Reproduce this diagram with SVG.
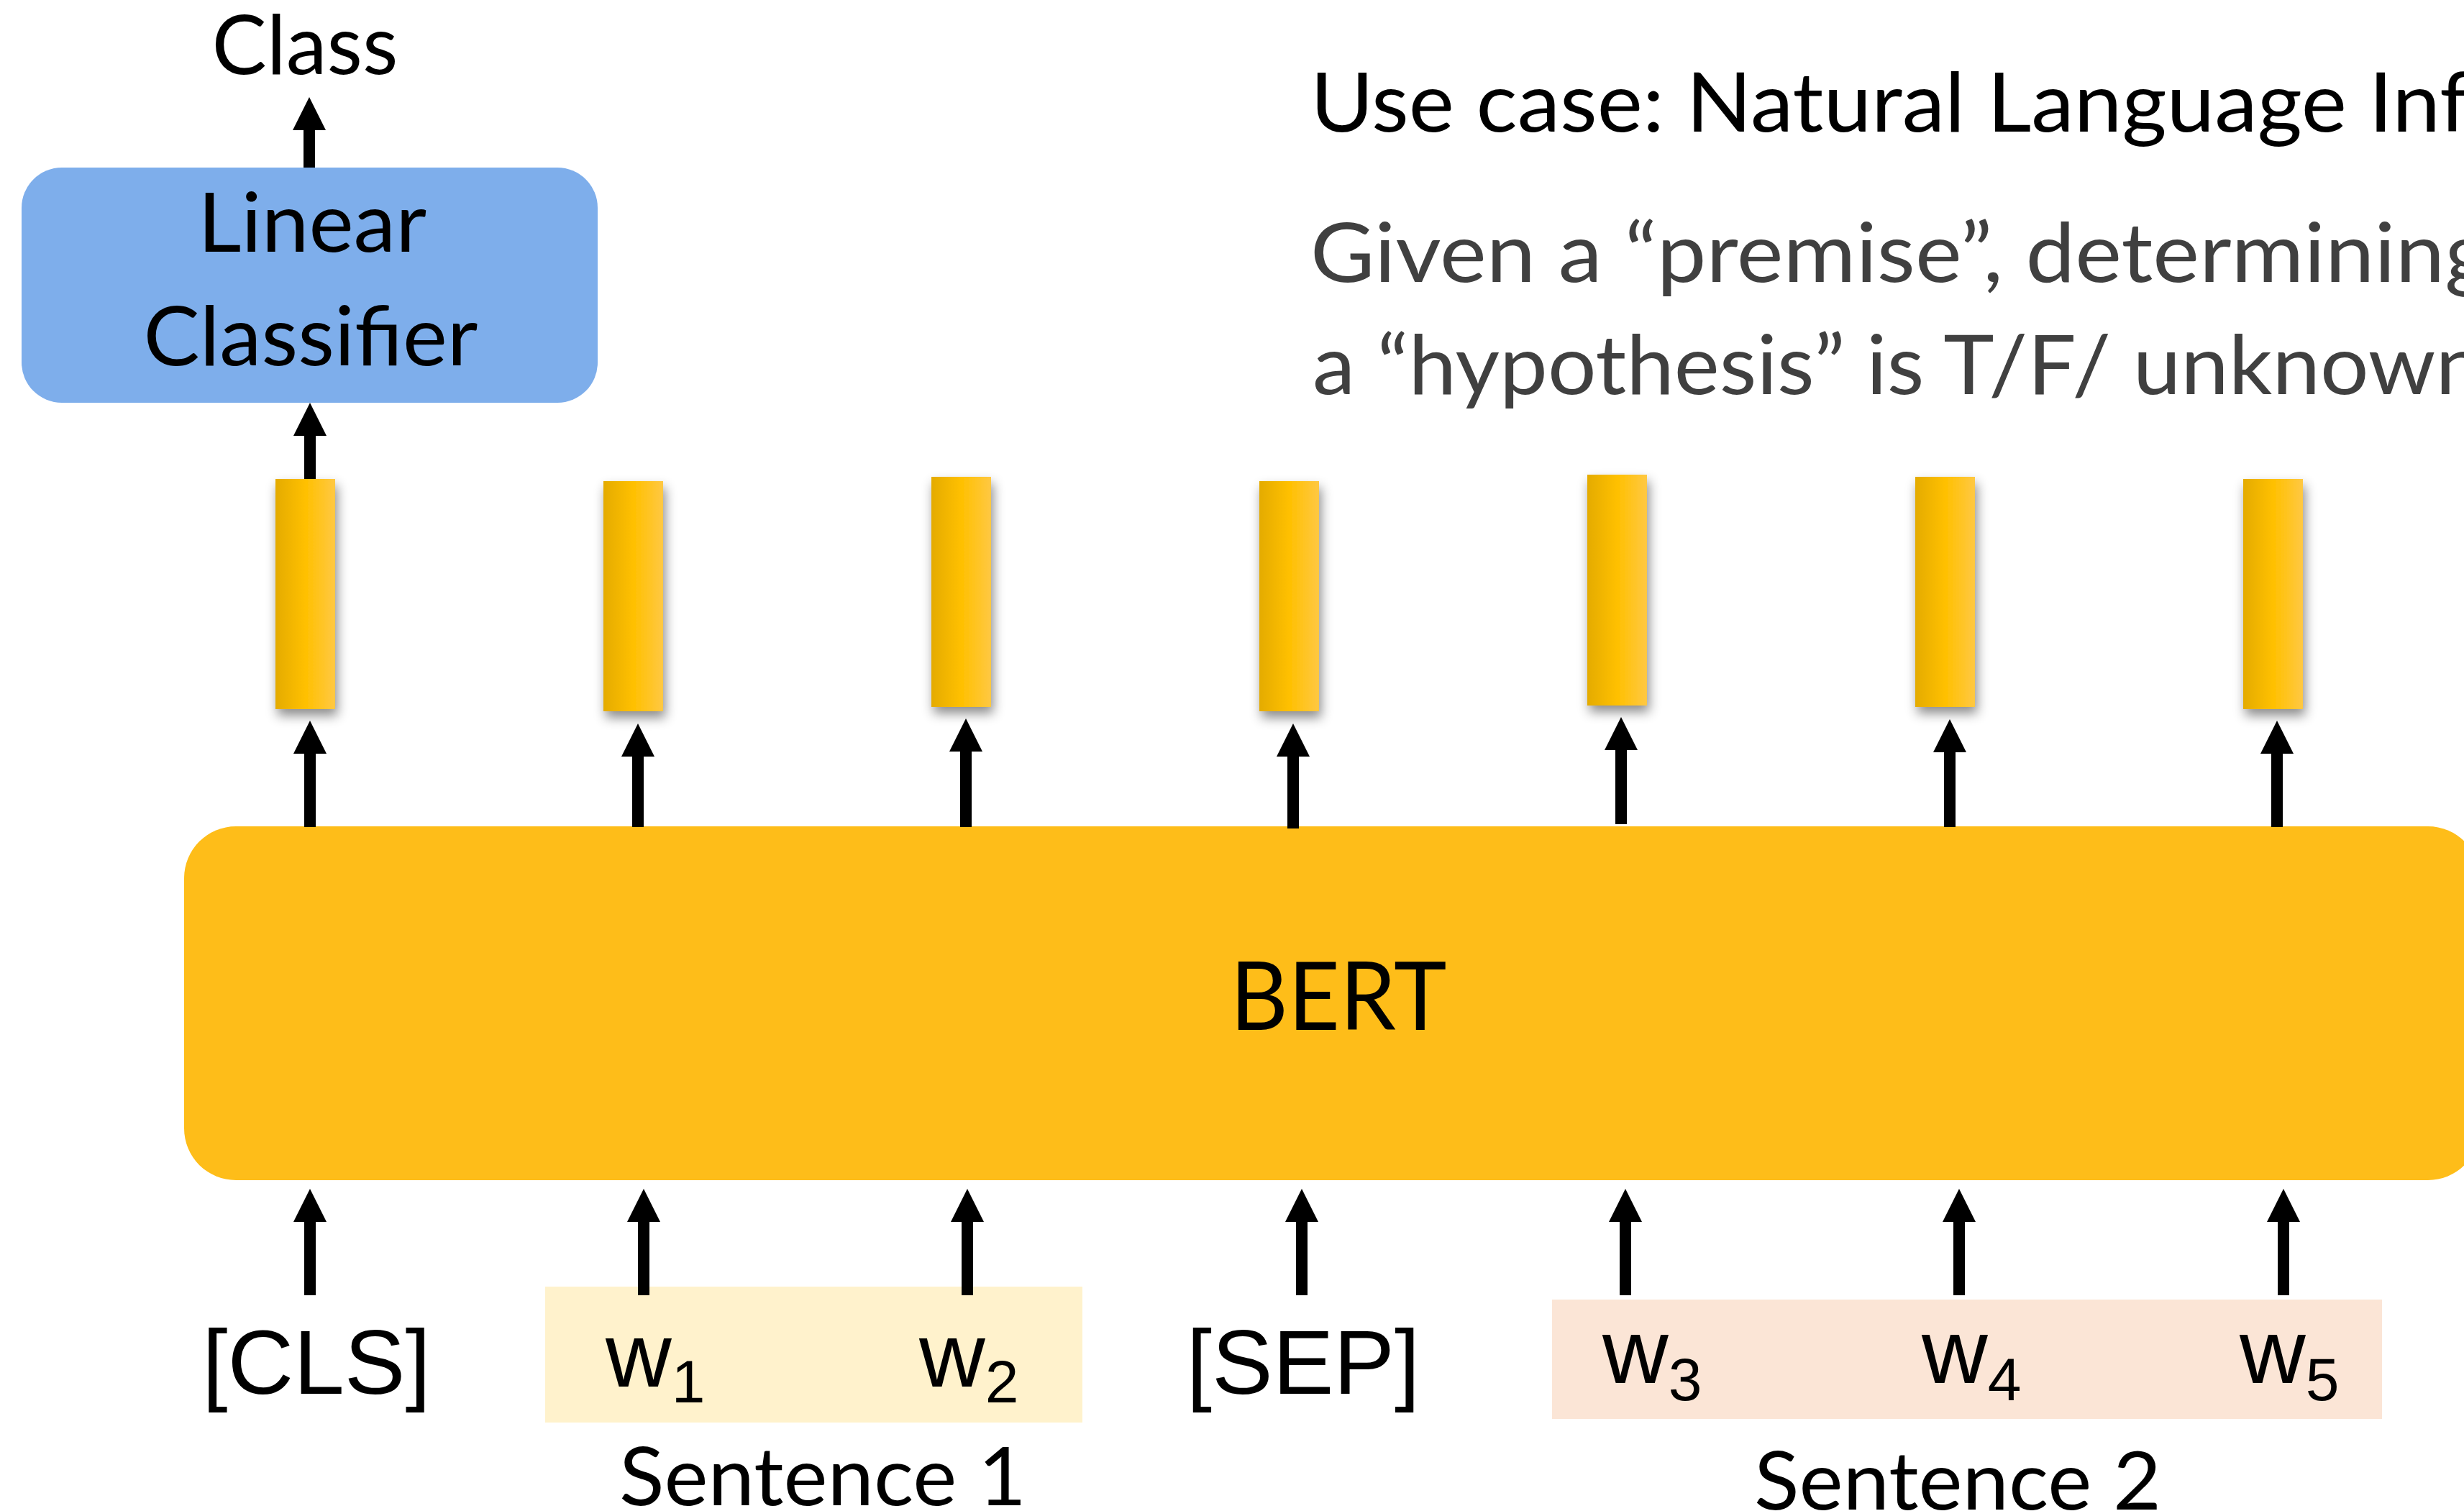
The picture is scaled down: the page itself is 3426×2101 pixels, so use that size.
<svg xmlns="http://www.w3.org/2000/svg" width="3426" height="2101" viewBox="0 0 3426 2101">
  <style>
    .cal { font-family: Lato, "Open Sans", sans-serif; fill: #000; }
    .ari { font-family: "Liberation Sans", Arial, sans-serif; fill: #000; font-size: 127px; }
    .sub { font-size: 84px; }
    .desc { fill: #404040; }
    .conn { stroke: #000; stroke-width: 16; fill: none; marker-end: url(#head); }
    .vec { fill: url(#vecFill); filter: url(#vecShadow); }
  </style>
  <defs>
    <marker id="head" markerUnits="userSpaceOnUse" markerWidth="46" markerHeight="46" refX="0" refY="23" orient="auto" viewBox="0 0 46 46">
      <path d="M0,0 L46,23 L0,46 Z" fill="#000"/>
    </marker>
    <linearGradient id="vecFill" x1="0" y1="0" x2="1" y2="0">
      <stop offset="0" stop-color="#E4AB00"/>
      <stop offset="0.5" stop-color="#FFC000"/>
      <stop offset="1" stop-color="#FFC843"/>
    </linearGradient>
    <filter id="vecShadow" x="-80%" y="-20%" width="260%" height="145%">
      <feDropShadow dx="3" dy="9" stdDeviation="8" flood-color="#000" flood-opacity="0.45"/>
    </filter>
  </defs>

  <rect width="3426" height="2101" fill="#fff"/>

  <!-- task description -->
  <g id="usecase">
    <text class="cal" x="1822" y="183" font-size="115" textLength="1963" lengthAdjust="spacingAndGlyphs">Use case: Natural Language Inference</text>
    <text class="cal desc" x="1822" y="392" font-size="115" textLength="1641" lengthAdjust="spacingAndGlyphs">Given a “premise”, determining</text>
    <text class="cal desc" x="1825" y="548" font-size="115" textLength="1628" lengthAdjust="spacingAndGlyphs">a “hypothesis” is T/F/ unknown</text>
  </g>

  <!-- output label -->
  <g id="class-label">
    <text class="cal" x="424" y="103" font-size="115" text-anchor="middle" textLength="259" lengthAdjust="spacingAndGlyphs">Class</text>
  </g>

  <!-- classifier head -->
  <g id="linear-classifier">
    <rect x="30" y="233" width="801" height="327" rx="56" ry="56" fill="#7EAEEB"/>
    <text class="cal" x="434" y="350" font-size="115" text-anchor="middle" textLength="318" lengthAdjust="spacingAndGlyphs">Linear</text>
    <text class="cal" x="432" y="508" font-size="115" text-anchor="middle" textLength="465" lengthAdjust="spacingAndGlyphs">Classifier</text>
  </g>

  <!-- encoder -->
  <g id="bert">
    <rect x="256" y="1149" width="3192" height="492" rx="72" ry="72" fill="#FEBD19"/>
    <text class="cal" x="1861" y="1432" font-size="131" text-anchor="middle" textLength="301" lengthAdjust="spacingAndGlyphs">BERT</text>
  </g>

  <!-- input tokens -->
  <g id="tok-cls">
    <text class="ari" x="440" y="1938" text-anchor="middle">[CLS]</text>
  </g>
  <g id="sentence-1">
    <rect x="758" y="1789" width="747" height="189" fill="#FFF2CC"/>
    <text class="cal" x="1144" y="2093" font-size="113" text-anchor="middle" textLength="566" lengthAdjust="spacingAndGlyphs">Sentence 1</text>
  </g>
  <g id="tok-w1">
    <text class="ari" x="842" y="1928">w<tspan class="sub" dy="22">1</tspan></text>
  </g>
  <g id="tok-w2">
    <text class="ari" x="1278" y="1928">w<tspan class="sub" dy="22">2</tspan></text>
  </g>
  <g id="tok-sep">
    <text class="ari" x="1812" y="1938" text-anchor="middle">[SEP]</text>
  </g>
  <g id="sentence-2">
    <rect x="2158" y="1807" width="1154" height="166" fill="#FBE5D6"/>
    <text class="cal" x="2722" y="2099" font-size="113" text-anchor="middle" textLength="566" lengthAdjust="spacingAndGlyphs">Sentence 2</text>
  </g>
  <g id="tok-w3">
    <text class="ari" x="2228" y="1923">w<tspan class="sub" dy="24">3</tspan></text>
  </g>
  <g id="tok-w4">
    <text class="ari" x="2672" y="1923">w<tspan class="sub" dy="24">4</tspan></text>
  </g>
  <g id="tok-w5">
    <text class="ari" x="3114" y="1923">w<tspan class="sub" dy="24">5</tspan></text>
  </g>

  <!-- connectors -->
  <g id="connectors">
    <!-- classifier to class -->
    <line class="conn" x1="430" y1="233" x2="430" y2="181"/>
    <!-- [CLS] vector to classifier -->
    <line class="conn" x1="431" y1="680" x2="431" y2="606"/>
    <!-- encoder to output vectors -->
    <line class="conn" x1="431" y1="1150" x2="431" y2="1048"/>
    <line class="conn" x1="887" y1="1150" x2="887" y2="1052"/>
    <line class="conn" x1="1343" y1="1150" x2="1343" y2="1045"/>
    <line class="conn" x1="1798" y1="1152" x2="1798" y2="1052"/>
    <line class="conn" x1="2254" y1="1146" x2="2254" y2="1043"/>
    <line class="conn" x1="2711" y1="1150" x2="2711" y2="1046"/>
    <line class="conn" x1="3166" y1="1150" x2="3166" y2="1048"/>
    <!-- tokens to encoder -->
    <line class="conn" x1="431" y1="1801" x2="431" y2="1699"/>
    <line class="conn" x1="895" y1="1801" x2="895" y2="1699"/>
    <line class="conn" x1="1345" y1="1801" x2="1345" y2="1699"/>
    <line class="conn" x1="1810" y1="1801" x2="1810" y2="1699"/>
    <line class="conn" x1="2260" y1="1801" x2="2260" y2="1699"/>
    <line class="conn" x1="2724" y1="1801" x2="2724" y2="1699"/>
    <line class="conn" x1="3175" y1="1801" x2="3175" y2="1699"/>
  </g>

  <!-- contextual output vectors -->
  <g id="vec-1"><rect class="vec" x="383" y="666" width="83" height="320"/></g>
  <g id="vec-2"><rect class="vec" x="839" y="669" width="83" height="320"/></g>
  <g id="vec-3"><rect class="vec" x="1295" y="663" width="83" height="320"/></g>
  <g id="vec-4"><rect class="vec" x="1751" y="669" width="83" height="320"/></g>
  <g id="vec-5"><rect class="vec" x="2207" y="660" width="83" height="321"/></g>
  <g id="vec-6"><rect class="vec" x="2663" y="663" width="83" height="320"/></g>
  <g id="vec-7"><rect class="vec" x="3119" y="666" width="83" height="320"/></g>
</svg>
